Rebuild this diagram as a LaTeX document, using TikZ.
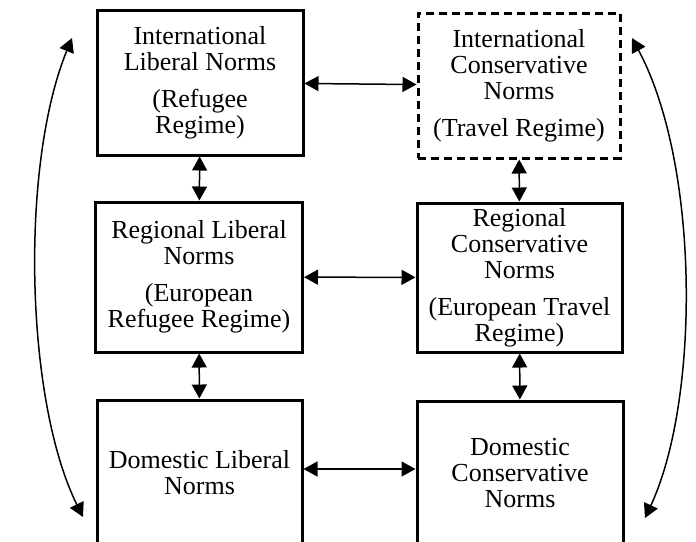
\documentclass[tikz,border=0pt]{standalone}
\usepackage{fontspec}
\setmainfont{Liberation Serif}
\usetikzlibrary{arrows.meta}

\begin{document}
\begin{tikzpicture}[x=0.5pt,y=-0.5pt,
    norm/.style={draw, line width=1.5pt, align=center, inner sep=0pt,
      font=\fontsize{13}{13}\selectfont},
    link/.style={{Triangle[length=7pt,width=7.5pt]}-{Triangle[length=7pt,width=7.5pt]}, line width=0.75pt}]
        \useasboundingbox (0,0) rectangle (696,541);

        \node [norm, minimum width=103pt, minimum height=72.5pt] (tl) at (200,82.5)
          {International\\Liberal Norms\\[5.5pt](Refugee\\Regime)};
        \node [norm, dash pattern=on 4pt off 2.5pt, minimum width=101pt, minimum height=72.5pt] (tr) at (519,85.5)
          {International\\Conservative\\Norms\\[5.5pt](Travel Regime)};
        \node [norm, minimum width=103.5pt, minimum height=75pt] (ml) at (199,277)
          {Regional Liberal\\Norms\\[5.5pt](European\\Refugee Regime)};
        \node [norm, minimum width=102.5pt, minimum height=74.5pt] (mr) at (519.5,277.5)
          {Regional\\Conservative\\Norms\\[5.5pt](European Travel\\Regime)};
        \node [norm, minimum width=102.5pt, minimum height=72.5pt] (bl) at (199.5,472.5)
          {Domestic Liberal\\Norms};
        \node [norm, minimum width=103pt, minimum height=72pt] (br) at (520,473)
          {Domestic\\Conservative\\Norms};

        \coordinate (lt) at (72,38);
        \coordinate (lb) at (83,517);
        \coordinate (rt) at (632,38);
        \coordinate (rb) at (645,518);

        \draw[link] (tl) -- (tr);
        \draw[link] (ml) -- (mr);
        \draw[link] ([yshift=1.75pt]bl.east) -- ([yshift=1.75pt]bl.east -| br.west);
        \draw[link] (tl) -- (ml);
        \draw[link] (ml) -- (bl);
        \draw[link] (tr) -- (mr);
        \draw[link] (mr) -- (br);
        \draw[link] (lt) .. controls (20,165) and (25,400) .. (lb);
        \draw[link] (rt) .. controls (700,165) and (700,400) .. (rb);
      \end{tikzpicture}
\end{document}
